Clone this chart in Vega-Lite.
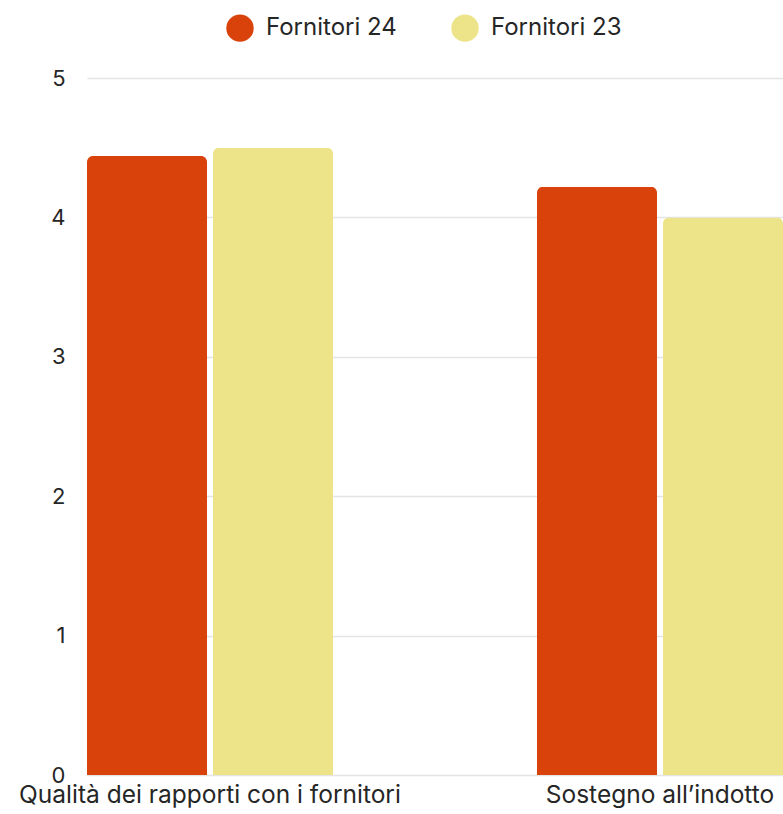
{
  "$schema": "https://vega.github.io/schema/vega-lite/v6.json",
  "width": 696,
  "height": 697,
  "autosize": {"type": "none"},
  "padding": {"left": 87, "top": 78, "right": 0, "bottom": 39},
  "background": "#ffffff",
  "config": {
    "font": "Inter",
    "view": {"stroke": null}
  },
  "data": {
    "values": [
      {"ambito": "Qualità dei rapporti con i fornitori", "serie": "Fornitori 24", "valore": 4.44},
      {"ambito": "Qualità dei rapporti con i fornitori", "serie": "Fornitori 23", "valore": 4.5},
      {"ambito": "Sostegno all’indotto", "serie": "Fornitori 24", "valore": 4.22},
      {"ambito": "Sostegno all’indotto", "serie": "Fornitori 23", "valore": 4.0}
    ]
  },
  "mark": {"type": "bar", "cornerRadiusTopLeft": 6, "cornerRadiusTopRight": 6},
  "encoding": {
    "x": {
      "field": "ambito",
      "type": "nominal",
      "sort": null,
      "title": null,
      "scale": {"paddingInner": 0.4533, "paddingOuter": 0},
      "axis": {
        "labelAngle": 0,
        "labelFontSize": 24.5,
        "labelColor": "#262626",
        "labelPadding": 8,
        "labelLimit": 0,
        "labelOverlap": false,
        "domain": false,
        "ticks": false
      }
    },
    "xOffset": {
      "field": "serie",
      "type": "nominal",
      "sort": ["Fornitori 24", "Fornitori 23"],
      "scale": {"paddingInner": 0.0476, "paddingOuter": 0}
    },
    "y": {
      "field": "valore",
      "type": "quantitative",
      "title": null,
      "scale": {"domain": [0, 5], "nice": false},
      "axis": {
        "values": [0, 1, 2, 3, 4, 5],
        "labelFontSize": 22,
        "labelColor": "#262626",
        "labelPadding": 22,
        "domain": false,
        "ticks": false,
        "gridColor": "#e4e4e4",
        "gridWidth": 1.5
      }
    },
    "color": {
      "field": "serie",
      "type": "nominal",
      "sort": ["Fornitori 24", "Fornitori 23"],
      "scale": {"domain": ["Fornitori 24", "Fornitori 23"], "range": ["#d9420b", "#ede388"]},
      "legend": {
        "title": null,
        "orient": "none",
        "direction": "horizontal",
        "legendX": 139,
        "legendY": -64,
        "symbolType": "circle",
        "symbolSize": 750,
        "symbolStrokeWidth": 0,
        "labelFontSize": 24,
        "labelColor": "#262626",
        "labelOffset": 12,
        "labelLimit": 0,
        "columnPadding": 54
      }
    }
  }
}
